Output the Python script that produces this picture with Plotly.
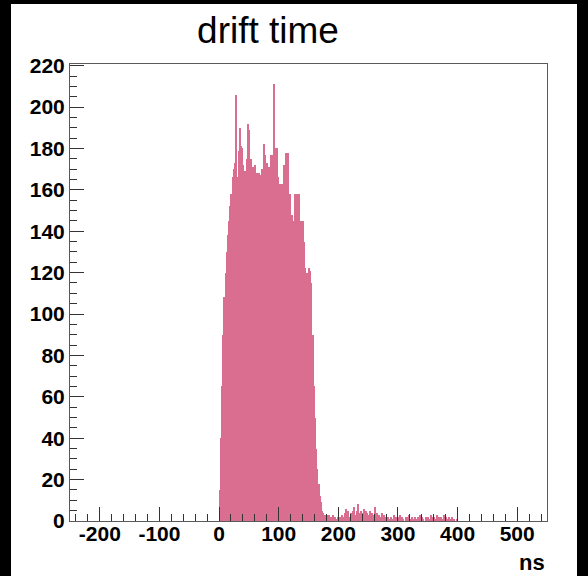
import plotly.graph_objects as go

# ---- data (histogram of drift time, 2 ns bins starting at 0 ns) ----
bin_width = 2.0
bin_start = 0.0
counts_main = [
    15, 40, 65, 90, 108, 120, 130, 138, 145, 152,
    158, 166, 170, 173, 206, 166, 179, 190, 181, 180,
    172, 169, 169, 175, 192, 189, 175, 171, 171, 170,
    172, 168, 150, 168, 167, 167, 170, 182, 177, 173,
    173, 171, 171, 177, 177, 171, 211, 180, 180, 166,
    163, 163, 163, 160, 172, 172, 178, 178, 158, 158,
    148, 148, 145, 158, 158, 158, 140, 158, 145, 145,
    145, 135, 122, 120, 119, 122, 121, 115, 90, 65,
    50, 35, 25, 18, 12, 9, 5, 4, 3, 2,
]
counts_tail = [
    3, 2, 3, 2, 2, 3, 1, 2, 1, 2,
    1, 2, 1, 3, 2, 4, 6, 3, 5, 2,
    4, 3, 5, 7, 3, 5, 8, 4, 3, 5,
    4, 6, 3, 5, 4, 3, 5, 2, 4, 3,
    7, 3, 4, 2, 3, 2, 4, 1, 3, 2,
    1, 2, 1, 0, 2, 1, 3, 1, 2, 1,
    2, 3, 1, 2, 1, 0, 2, 1, 2, 3,
    1, 2, 1, 0, 2, 1, 2, 1, 3, 1,
    2, 1, 0, 2, 1, 2, 1, 3, 1, 2,
    2, 1, 3, 1, 2, 0, 2, 1, 3, 1,
    2, 1, 2, 0, 1, 2, 1, 1, 0, 1,
]
counts = counts_main + counts_tail
centers = [bin_start + bin_width * (i + 0.5) for i in range(len(counts))]

x_range = [-250, 550]
y_range = [0, 220.8]
x_ticks = [-200, -100, 0, 100, 200, 300, 400, 500]
y_ticks = list(range(0, 221, 20))
title_text = "drift time"
x_title = "ns"

W, H = 588, 576
L, R, T, B = 70, 41, 64, 55
pw, ph = W - L - R, H - T - B

fill = "#DA6E91"
frame = "#5a5a5a"
font_fam = "Liberation Sans, Arial, sans-serif"

fig = go.Figure()
fig.add_trace(go.Bar(
    x=centers, y=counts, width=bin_width,
    marker=dict(color=fill, line=dict(width=0)),
    hoverinfo="skip",
))

def px2paper_x(px):
    return (px - L) / pw

def px2paper_y(py):
    return (H - B - py) / ph

# white page inside a black border
fig.add_shape(type="rect", xref="paper", yref="paper",
              x0=px2paper_x(11), x1=px2paper_x(577),
              y0=px2paper_y(H + 5), y1=px2paper_y(4),
              fillcolor="white", line=dict(width=0), layer="below")

tickfont = dict(family=font_fam, size=21, color="black", weight="bold")

fig.update_xaxes(
    range=x_range, tickvals=x_ticks, ticktext=[str(v) for v in x_ticks],
    ticks="inside", ticklen=14, tickwidth=1, tickcolor="#333",
    minor=dict(dtick=20, tick0=0, ticks="inside", ticklen=7, tickcolor="#333", tickwidth=1),
    showline=True, linecolor=frame, linewidth=1, mirror=True,
    showgrid=False, zeroline=False, tickfont=tickfont,
    ticklabelstandoff=-6,
)
fig.update_yaxes(
    range=y_range, tickvals=y_ticks, ticktext=[str(v) for v in y_ticks],
    ticks="inside", ticklen=14, tickwidth=1, tickcolor="#333",
    minor=dict(dtick=5, tick0=0, ticks="inside", ticklen=7, tickcolor="#333", tickwidth=1),
    showline=True, linecolor=frame, linewidth=1, mirror=True,
    showgrid=False, zeroline=False, tickfont=tickfont,
)

fig.add_annotation(text=x_title, xref="paper", yref="paper",
                   x=1.0, y=px2paper_y(562), xanchor="right", yanchor="middle",
                   showarrow=False,
                   font=dict(family=font_fam, size=22, color="black", weight="bold"))

fig.update_layout(
    width=W, height=H, autosize=False,
    margin=dict(l=L, r=R, t=T, b=B, pad=0),
    paper_bgcolor="black", plot_bgcolor="white",
    bargap=0, showlegend=False,
    title=dict(text=title_text, xref="container", yref="container",
               x=268 / W, y=1 - 30 / H, xanchor="center", yanchor="middle",
               font=dict(family=font_fam, size=37, color="black")),
)

fig.write_html("out.html")
